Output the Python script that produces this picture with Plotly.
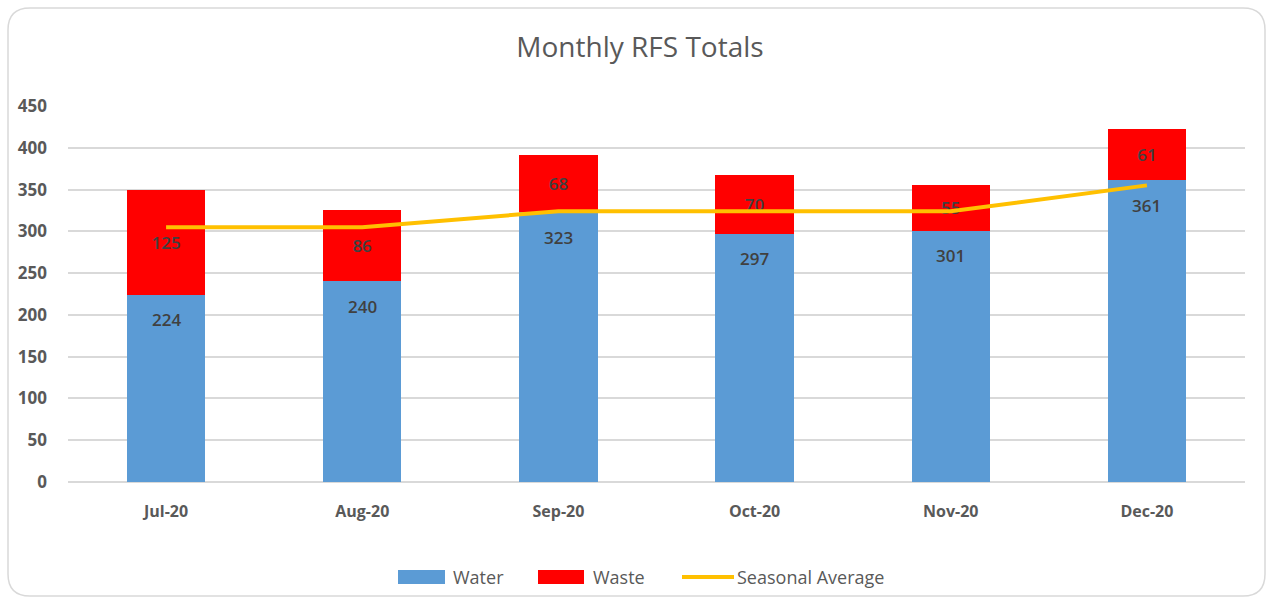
import plotly.graph_objects as go

months = ["Jul-20", "Aug-20", "Sep-20", "Oct-20", "Nov-20", "Dec-20"]
water = [224, 240, 323, 297, 301, 361]
waste = [125, 86, 68, 70, 55, 61]
seasonal_avg = [305, 305, 324, 324, 324, 355]

WATER_COLOR = "#5B9BD5"
WASTE_COLOR = "#FF0000"
AVG_COLOR = "#FFC000"

W, H = 1273, 597
L, R, T, B = 68, 28, 106, 115
pw, ph = W - L - R, H - T - B


def px_to_paper(x, y):
    return (x - L) / pw, (H - B - y) / ph


label_font = dict(family="Open Sans", size=17, color="#404040", weight=600)

fig = go.Figure()
fig.add_trace(go.Bar(
    x=months, y=water, name="Water", marker=dict(color=WATER_COLOR, line=dict(width=0)),
    showlegend=False,
))
fig.add_trace(go.Bar(
    x=months, y=waste, name="Waste", marker=dict(color=WASTE_COLOR, line=dict(width=0)),
    text=waste, textposition="inside", insidetextanchor="middle",
    textfont=label_font, textangle=0, showlegend=False,
))
fig.add_trace(go.Scatter(
    x=months, y=seasonal_avg, name="Seasonal Average", mode="lines",
    line=dict(color=AVG_COLOR, width=4), showlegend=False,
))

# water values written just inside the top of each blue segment
annotations = [
    dict(x=m, y=v, xref="x", yref="y", text=str(v), showarrow=False,
         yshift=-25, font=label_font)
    for m, v in zip(months, water)
]

shapes = []

# rounded outer frame of the chart area
x0, y0 = px_to_paper(8, 8)
x1, y1 = px_to_paper(1265, 596)
rx = 22 / pw
ry = 22 / ph
path = (
    f"M {x0 + rx} {y0} L {x1 - rx} {y0} Q {x1} {y0} {x1} {y0 - ry} "
    f"L {x1} {y1 + ry} Q {x1} {y1} {x1 - rx} {y1} "
    f"L {x0 + rx} {y1} Q {x0} {y1} {x0} {y1 + ry} "
    f"L {x0} {y0 - ry} Q {x0} {y0} {x0 + rx} {y0} Z"
)
shapes.append(dict(type="path", xref="paper", yref="paper", path=path,
                   line=dict(color="#d9d9d9", width=1.5), fillcolor="rgba(0,0,0,0)", layer="below"))

# legend row along the bottom
legend_font = dict(family="Open Sans", size=18, color="#595959")
ly = 577
legend_items = [
    ("rect", WATER_COLOR, 398, 445, 451, "Water"),
    ("rect", WASTE_COLOR, 538, 584, 591, "Waste"),
    ("line", AVG_COLOR, 682, 734, 735, "Seasonal Average"),
]
for kind, color, sx0, sx1, tx, label in legend_items:
    if kind == "rect":
        a0, b0 = px_to_paper(sx0, ly - 7)
        a1, b1 = px_to_paper(sx1, ly + 7)
        shapes.append(dict(type="rect", xref="paper", yref="paper", x0=a0, x1=a1, y0=b1, y1=b0,
                           fillcolor=color, line=dict(width=0)))
    else:
        a0, b0 = px_to_paper(sx0, ly)
        a1, _ = px_to_paper(sx1, ly)
        shapes.append(dict(type="line", xref="paper", yref="paper", x0=a0, x1=a1, y0=b0, y1=b0,
                           line=dict(color=color, width=4)))
    ax, ay = px_to_paper(tx, ly)
    annotations.append(dict(x=ax, y=ay, xref="paper", yref="paper", text=label, showarrow=False,
                            xanchor="left", yanchor="middle", font=legend_font))

fig.update_layout(
    width=W, height=H,
    margin=dict(l=L, r=R, t=T, b=B, autoexpand=False),
    paper_bgcolor="white", plot_bgcolor="white",
    barmode="stack", bargap=0.6,
    showlegend=False,
    title=dict(text="Monthly RFS Totals", x=640 / W, xref="container", xanchor="center",
               y=1 - 47 / H, yanchor="middle",
               font=dict(family="Open Sans", size=28, color="#595959")),
    font=dict(family="Open Sans", color="#595959"),
    uniformtext=dict(mode="show", minsize=8),
    xaxis=dict(
        showgrid=False, showline=False, zeroline=False,
        tickfont=dict(family="Open Sans", size=16, color="#595959", weight="bold"),
        ticklabelstandoff=18,
        range=[-0.5, 5.5],
    ),
    yaxis=dict(
        range=[0, 450], dtick=50, tick0=0,
        showgrid=True, gridcolor="#d9d9d9", gridwidth=1.5,
        zeroline=True, zerolinecolor="#d9d9d9", zerolinewidth=1.5,
        showline=False,
        tickfont=dict(family="Open Sans", size=17, color="#595959", weight="bold"),
        ticklabelstandoff=20,
    ),
    annotations=annotations,
    shapes=shapes,
)

fig.write_html("out.html")
